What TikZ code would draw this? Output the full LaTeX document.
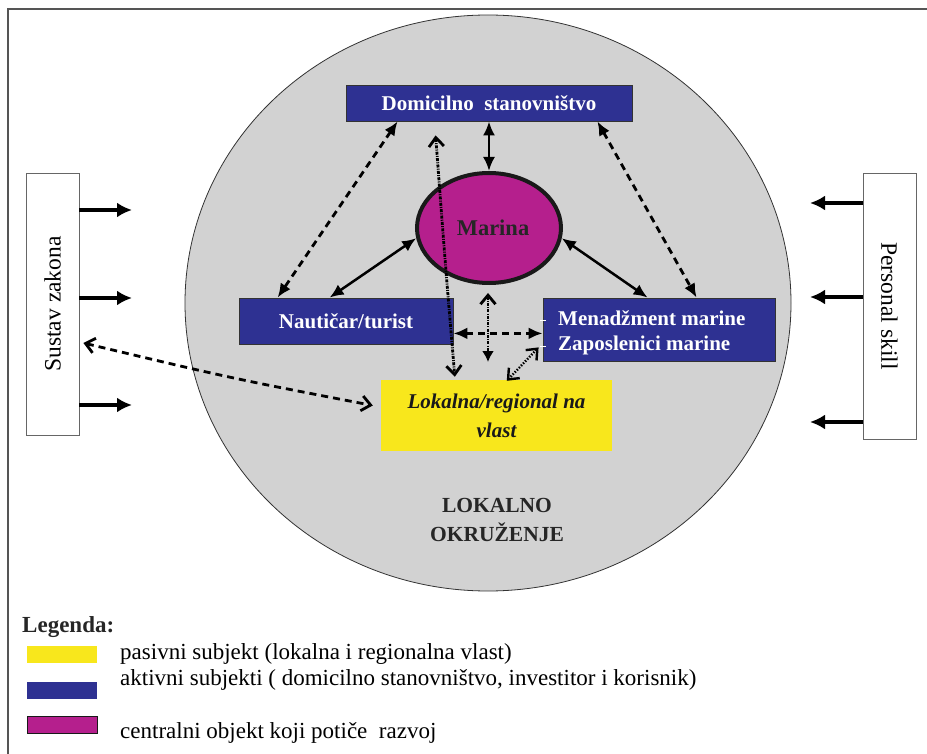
\documentclass[tikz,border=0pt]{standalone}
\usepackage{fontspec}
\setmainfont{Liberation Serif}
\usetikzlibrary{arrows.meta,shapes.geometric}
\definecolor{bgray}{HTML}{D2D2D2}
\definecolor{dblue}{HTML}{2E3192}
\definecolor{mag}{HTML}{B51F8D}
\definecolor{yel}{HTML}{F8E71C}
\definecolor{frame}{HTML}{555555}
\begin{document}
\begin{tikzpicture}[x=1pt,y=-1pt,
  bluebox/.style={draw=black!80,line width=0.8pt,fill=dblue,text=white,inner sep=0pt,font=\fontsize{21}{25}\selectfont\bfseries},
  sidebox/.style={draw=black!60,line width=0.8pt,fill=white,inner sep=0pt,font=\fontsize{23.5}{26}\selectfont},
  solidarr/.style={line width=2.5pt,{Latex[length=14pt,width=12pt]}-{Latex[length=14pt,width=12pt]}},
  dasharr/.style={line width=2.8pt,dash pattern=on 7pt off 5pt,{Latex[length=14pt,width=12pt]}-{Latex[length=14pt,width=12pt]}},
  opendash/.style={line width=2.8pt,dash pattern=on 7pt off 5pt,{Straight Barb[length=9pt,width=15pt]}-{Straight Barb[length=9pt,width=15pt]}},
  dotarr/.style={line width=2.8pt,dash pattern=on 3pt off 1.2pt on 1pt off 1.2pt,{Straight Barb[length=9pt,width=15pt]}-{Straight Barb[length=9pt,width=15pt]}},
  sidearr/.style={line width=3.2pt,-{Latex[length=15pt,width=15pt]}},
  legbox/.style={inner sep=0pt,minimum width=70pt,minimum height=17pt},
  legtext/.style={anchor=west,inner sep=0pt,font=\fontsize{23}{26}\selectfont}
]
\useasboundingbox (0,0) rectangle (927,754);
% frame
\draw[frame,line width=2pt] (8,754) -- (8,9) -- (927,9);
% environment
\node[ellipse,draw=black!80,line width=0.8pt,fill=bgray,minimum width=606pt,minimum height=576pt,inner sep=0pt] (env) at (488,303) {};
\node[font=\fontsize{21.5}{29}\selectfont\bfseries,align=center,text=black!85] (envt) at (497,520) {LOKALNO\\OKRUŽENJE};
% nodes
\node[bluebox,minimum width=286pt,minimum height=36pt] (dom) at (489,103) {Domicilno\ \ stanovništvo};
\node[ellipse,draw=black!90,line width=4pt,fill=mag,minimum width=144pt,minimum height=110pt,inner sep=0pt,font=\fontsize{22.5}{25}\selectfont\bfseries,text=black!85] (mar) at (489,228) {};
\node[font=\fontsize{22.5}{25}\selectfont\bfseries,text=black!85,inner sep=0pt] (mart) at (493,228) {Marina};
\node[bluebox,minimum width=214pt,minimum height=46pt] (nau) at (346,321) {Nautičar/turist};
\node[bluebox,minimum width=232pt,minimum height=63pt] (men) at (659,329.5) {};
\node[anchor=west,inner sep=0pt,text=white,font=\fontsize{21}{25}\selectfont\bfseries,align=left] (ment) at (558,333) {Menadžment marine\\Zaposlenici marine};
\node[fill=yel,minimum width=231pt,minimum height=71pt,inner sep=0pt,align=center,font=\fontsize{21}{29}\selectfont\bfseries\itshape,text=black!90] (lok) at (496.5,415.5) {Lokalna/regional na\\vlast};
\node[sidebox,minimum width=53pt,minimum height=262pt] (sus) at (52.5,304) {};
\node[rotate=90,inner sep=0pt,font=\fontsize{23.5}{26}\selectfont] (sust) at (sus.center) {Sustav zakona};
\node[sidebox,minimum width=53pt,minimum height=266pt] (per) at (889.5,306) {};
\node[rotate=-90,inner sep=0pt,font=\fontsize{23.5}{26}\selectfont] (pert) at (per.center) {Personal skill};
% side arrows
\coordinate (s1) at (132,210);
\coordinate (s2) at (132,298);
\coordinate (s3) at (132,405);
\draw[sidearr] (sus.east |- s1) -- (s1);
\draw[sidearr] (sus.east |- s2) -- (s2);
\draw[sidearr] (sus.east |- s3) -- (s3);
\coordinate (p1) at (810,203);
\coordinate (p2) at (810,297);
\coordinate (p3) at (810,422);
\draw[sidearr] (per.west |- p1) -- (p1);
\draw[sidearr] (per.west |- p2) -- (p2);
\draw[sidearr] (per.west |- p3) -- (p3);
% connectors
\draw[solidarr] (dom.south) -- (mar.north);
\draw[solidarr] (mar.188) -- ([xshift=91pt]nau.north west);
\draw[solidarr] (mar.352) -- ([xshift=105pt]men.north west);
\draw[dasharr] ([xshift=52pt]dom.south west) -- ([xshift=39pt]nau.north west);
\draw[dasharr] ([xshift=-35pt]dom.south east) -- ([xshift=154pt]men.north west);
\draw[dasharr] ([yshift=11pt]nau.south east) -- ([yshift=28pt]men.south west);
\draw[dotarr] ([xshift=90pt,yshift=-14pt]dom.south west) .. controls (445,260) .. ([xshift=74pt,yshift=3pt]lok.north west);
\coordinate (c1) at (488,293);
\coordinate (c2) at (488,362);
\draw[dotarr,{Straight Barb[length=9pt,width=15pt]}-{Latex[length=11pt,width=12pt]}] (c1) -- (c2);
\draw[dotarr,dash pattern=on 1.5pt off 1.5pt,line width=2.4pt] ([xshift=-4pt,yshift=14pt]men.south west) -- ([xshift=126pt,yshift=-1pt]lok.north west);
\draw[opendash] ([xshift=4pt,yshift=-39pt]sus.east) .. controls (230,378) .. ([xshift=-8pt,yshift=10pt]lok.west);
% small white ticks
\draw[white,line width=1.5pt] ([xshift=-3pt,yshift=41pt]men.south west) -- ++(6pt,0) coordinate (t1);
\draw[white,line width=1.5pt] ([xshift=-3pt,yshift=15pt]men.south west) -- ++(6pt,0) coordinate (t2);
% legend
\node[anchor=west,inner sep=0pt,font=\fontsize{23}{26}\selectfont\bfseries,text=black!85] (leg) at (22,627) {Legenda:};
\node[legbox,fill=yel] (l1) at (62,654.5) {};
\node[legtext] (l1t) at (120,654) {pasivni subjekt (lokalna i regionalna vlast)};
\node[legbox,fill=dblue] (l2) at (62,690.5) {};
\node[legtext] (l2t) at (120,680) {aktivni subjekti ( domicilno stanovništvo, investitor i korisnik)};
\node[legbox,fill=mag,draw=black!90,line width=1pt] (l3) at (62,724.5) {};
\node[legtext] (l3t) at (120,733) {centralni objekt koji potiče\ \ razvoj};
\end{tikzpicture}
\end{document}
